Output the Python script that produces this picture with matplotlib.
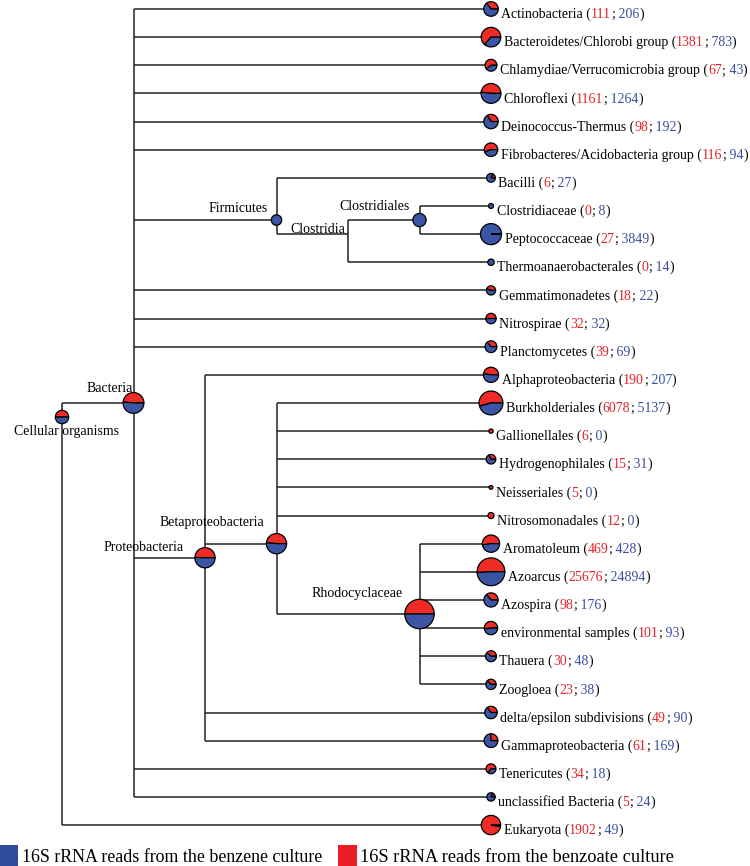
import math
import matplotlib
matplotlib.use('Agg')
import matplotlib.pyplot as plt
from matplotlib.patches import Wedge, Circle, Rectangle

plt.rcParams['font.family'] = ['Liberation Serif', 'DejaVu Serif']

# leaves, top to bottom: (benzoate reads; benzene reads)
leaf_names = ['Actinobacteria', 'Bacteroidetes/Chlorobi group', 'Chlamydiae/Verrucomicrobia group',
              'Chloroflexi', 'Deinococcus-Thermus', 'Fibrobacteres/Acidobacteria group', 'Bacilli',
              'Clostridiaceae', 'Peptococcaceae', 'Thermoanaerobacterales', 'Gemmatimonadetes',
              'Nitrospirae', 'Planctomycetes', 'Alphaproteobacteria', 'Burkholderiales',
              'Gallionellales', 'Hydrogenophilales', 'Neisseriales', 'Nitrosomonadales',
              'Aromatoleum', 'Azoarcus', 'Azospira', 'environmental samples', 'Thauera',
              'Zoogloea', 'delta/epsilon subdivisions', 'Gammaproteobacteria', 'Tenericutes',
              'unclassified Bacteria', 'Eukaryota']
leaf_red = [111, 1381, 67, 1161, 98, 116, 6, 0, 27, 0, 18, 32, 39, 190, 6078,
            6, 15, 5, 12, 469, 25676, 98, 101, 30, 23, 49, 61, 34, 5, 1902]
leaf_blue = [206, 783, 43, 1264, 192, 94, 27, 8, 3849, 14, 22, 32, 69, 207, 5137,
             0, 31, 0, 0, 428, 24894, 176, 93, 48, 38, 90, 169, 18, 24, 49]
leaf_parent = (['Bacteria'] * 6 + ['Firmicutes', 'Clostridiales', 'Clostridiales', 'Clostridia']
               + ['Bacteria'] * 3 + ['Proteobacteria'] + ['Betaproteobacteria'] * 5
               + ['Rhodocyclaceae'] * 6 + ['Proteobacteria'] * 2 + ['Bacteria'] * 2
               + ['Cellular organisms'])

# inner nodes, reads assigned directly (estimated from pie sizes)
node_names = ['Cellular organisms', 'Bacteria', 'Firmicutes', 'Clostridia', 'Clostridiales',
              'Proteobacteria', 'Betaproteobacteria', 'Rhodocyclaceae']
node_parent = [None, 'Cellular organisms', 'Bacteria', 'Firmicutes', 'Clostridia',
               'Bacteria', 'Proteobacteria', 'Betaproteobacteria']
node_red = [100, 1700, 0, 0, 0, 1380, 1350, 48500]
node_blue = [98, 1800, 65, 0, 190, 1400, 1430, 48500]

# layout
node_level = {'Cellular organisms': 0, 'Bacteria': 1, 'Proteobacteria': 2, 'Firmicutes': 3,
              'Betaproteobacteria': 3, 'Clostridia': 4, 'Clostridiales': 5, 'Rhodocyclaceae': 5}
leaf_level = 6
x0, dx = 62, 71.5
top, row_h = 9, 28.14
# label: (anchor x offset, baseline y offset, ha)
label_pos = {'Cellular organisms': (5, 18, 'center'), 'Bacteria': (-1, -11, 'right'),
             'Firmicutes': (-9, -8, 'right'), 'Clostridia': (-3, -1, 'right'),
             'Clostridiales': (-10, -10, 'right'), 'Proteobacteria': (-21, -7, 'right'),
             'Betaproteobacteria': (-12, -18, 'right'), 'Rhodocyclaceae': (-17, -17, 'right')}

RED = '#ee2b24'
BLUE = '#3b55a5'
TXT_RED = '#e0262b'
TXT_BLUE = '#3a4f9f'
LINE = '#222222'
FS = 10

pos = {}
children = {}
for n, p in zip(leaf_names, leaf_parent):
    children.setdefault(p, []).append(n)
for n, p in zip(node_names, node_parent):
    if p is not None:
        children.setdefault(p, []).append(n)

for i, n in enumerate(leaf_names):
    pos[n] = (x0 + leaf_level * dx, top + i * row_h)


def leaf_span(n):
    if n not in children:
        return pos[n][1], pos[n][1]
    spans = [leaf_span(c) for c in children[n]]
    return min(s[0] for s in spans), max(s[1] for s in spans)


for n in node_names:
    lo, hi = leaf_span(n)
    pos[n] = (x0 + node_level[n] * dx, (lo + hi) / 2)


def radius(total):
    return max(1.5, 1.3 * math.log(total) - 0.2)


fig = plt.figure(figsize=(7.5, 8.66), dpi=100)
ax = fig.add_axes([0, 0, 1, 1])
ax.set_xlim(0, 750)
ax.set_ylim(866, 0)
ax.axis('off')


def pie(x, y, red, blue):
    tot = red + blue
    if tot == 0:
        return 0
    r = radius(tot)
    a = 360.0 * red / tot
    if red > 0 and blue > 0:
        ax.add_patch(Wedge((x, y), r, -a, 0, facecolor=RED, edgecolor='black', lw=0.9, zorder=3))
        ax.add_patch(Wedge((x, y), r, 0, 360 - a, facecolor=BLUE, edgecolor='black', lw=0.9, zorder=3))
    else:
        ax.add_patch(Circle((x, y), r, facecolor=RED if red > 0 else BLUE,
                            edgecolor='black', lw=0.9, zorder=3))
    return r


# edges
all_parent = dict(zip(leaf_names, leaf_parent))
all_parent.update({n: p for n, p in zip(node_names, node_parent) if p is not None})
for n, p in all_parent.items():
    ax.plot([pos[p][0], pos[n][0]], [pos[n][1], pos[n][1]], color=LINE, lw=1.1, zorder=1,
            solid_capstyle='butt')
for p, ch in children.items():
    ys = [pos[c][1] for c in ch]
    ax.plot([pos[p][0]] * 2, [min(ys), max(ys)], color=LINE, lw=1.1, zorder=1,
            solid_capstyle='butt')

# inner nodes
for n, rd, bl in zip(node_names, node_red, node_blue):
    x, y = pos[n]
    pie(x, y, rd, bl)
    ox, oy, ha = label_pos[n]
    ax.text(x + ox, y + oy, n, ha=ha, va='baseline', fontsize=FS, color='black', zorder=4)

# leaves
for n, rd, bl in zip(leaf_names, leaf_red, leaf_blue):
    x, y = pos[n]
    r = pie(x, y, rd, bl)
    t = ax.text(x + r + 3, y + 9, n + ' (', ha='left', va='baseline', fontsize=FS, color='black')
    for piece, col in [(str(rd), TXT_RED), (';', 'black'), (' ' + str(bl), TXT_BLUE), (')', 'black')]:
        t = ax.annotate(piece, xy=(1, 0), xycoords=t, ha='left', va='bottom',
                        fontsize=FS, color=col)

# legend
ax.add_patch(Rectangle((0, 845), 18, 21, facecolor='#2d4b9b', edgecolor='none', clip_on=False))
ax.text(22, 862, '16S rRNA reads from the benzene culture', ha='left', va='baseline',
        fontsize=12.9, color='black')
ax.add_patch(Rectangle((338, 845), 19, 21, facecolor='#ec1c24', edgecolor='none', clip_on=False))
ax.text(360, 862, '16S rRNA reads from the benzoate culture', ha='left', va='baseline',
        fontsize=13.2, color='black')

fig.savefig('out.png', dpi=100, facecolor='white')
